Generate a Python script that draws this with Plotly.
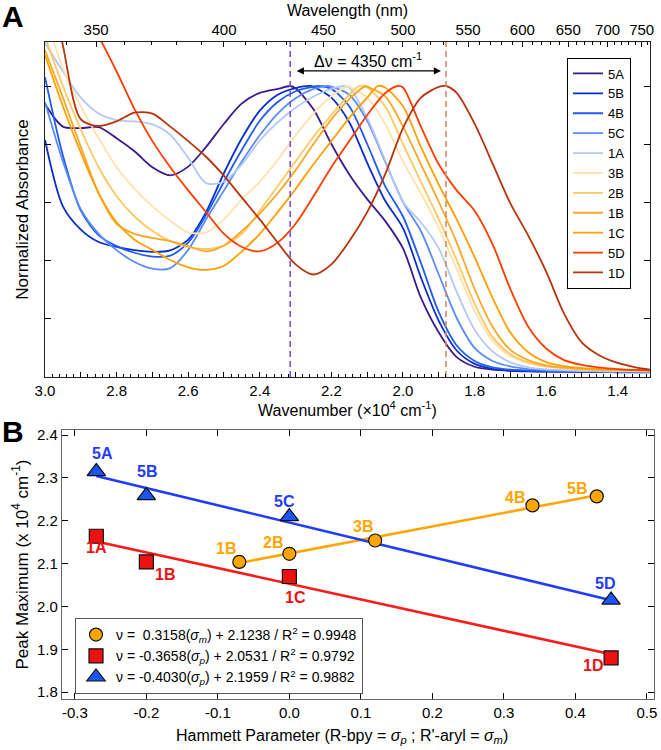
import plotly.graph_objects as go

FONT = "Arial, Liberation Sans, Helvetica, sans-serif"
W, H = 661, 750

# ---------------- Panel B data (Hammett plot) ----------------
sigma_tri = [-0.27, -0.20, 0.00, 0.45]
nu_tri = [2.315, 2.259, 2.210, 2.015]
lab_tri = ["5A", "5B", "5C", "5D"]

sigma_sq = [-0.27, -0.20, 0.00, 0.45]
nu_sq = [2.164, 2.104, 2.070, 1.880]
lab_sq = ["1A", "1B", "1C", "1D"]

sigma_circ = [-0.07, 0.00, 0.12, 0.34, 0.43]
nu_circ = [2.104, 2.123, 2.154, 2.236, 2.257]
lab_circ = ["1B", "2B", "3B", "4B", "5B"]

fit_circ = (0.3158, 2.1238, 0.9948)
fit_sq = (-0.3658, 2.0531, 0.9792)
fit_tri = (-0.4030, 2.1959, 0.9882)

# ---------------- Panel A data (normalized spectra) ----------------
wavenumber = [3.00, 2.95, 2.90, 2.85, 2.80, 2.75, 2.70, 2.65, 2.60, 2.55,
              2.50, 2.45, 2.40, 2.35, 2.30, 2.25, 2.20, 2.15, 2.10, 2.05,
              2.00, 1.95, 1.90, 1.85, 1.80, 1.75, 1.70, 1.65, 1.60, 1.55,
              1.50, 1.45, 1.40, 1.35, 1.30]

abs_5A = [0.938, 0.860, 0.855, 0.858, 0.820, 0.775, 0.720, 0.692, 0.722, 0.790,
          0.870, 0.940, 0.976, 0.990, 0.992, 0.920, 0.800, 0.695, 0.610, 0.535,
          0.440, 0.270, 0.150, 0.065, 0.032, 0.022, 0.018, 0.016, 0.015, 0.015,
          0.014, 0.014, 0.013, 0.013, 0.013]
abs_5B = [0.814, 0.585, 0.505, 0.462, 0.445, 0.434, 0.428, 0.433, 0.470, 0.565,
          0.700, 0.820, 0.915, 0.970, 0.993, 0.997, 0.960, 0.875, 0.735, 0.605,
          0.510, 0.340, 0.190, 0.088, 0.042, 0.025, 0.019, 0.017, 0.016, 0.015,
          0.015, 0.014, 0.014, 0.014, 0.013]
abs_4B = [1.030, 0.760, 0.570, 0.485, 0.448, 0.425, 0.412, 0.415, 0.460, 0.555,
          0.670, 0.780, 0.880, 0.945, 0.982, 0.998, 0.990, 0.930, 0.800, 0.655,
          0.550, 0.390, 0.220, 0.105, 0.052, 0.030, 0.022, 0.019, 0.017, 0.016,
          0.015, 0.015, 0.014, 0.014, 0.014]
abs_5C = [0.945, 0.740, 0.575, 0.490, 0.434, 0.393, 0.370, 0.372, 0.435, 0.540,
          0.640, 0.740, 0.830, 0.905, 0.958, 0.990, 0.998, 0.970, 0.880, 0.740,
          0.600, 0.500, 0.350, 0.200, 0.097, 0.052, 0.033, 0.024, 0.020, 0.018,
          0.017, 0.016, 0.015, 0.015, 0.015]
abs_1A = [1.148, 1.050, 0.960, 0.905, 0.882, 0.878, 0.868, 0.832, 0.752, 0.665,
          0.670, 0.730, 0.812, 0.875, 0.925, 0.964, 0.990, 0.995, 0.890, 0.745,
          0.600, 0.530, 0.440, 0.290, 0.160, 0.085, 0.047, 0.030, 0.023, 0.020,
          0.018, 0.017, 0.016, 0.016, 0.015]
abs_3B = [1.250, 1.060, 0.930, 0.820, 0.720, 0.645, 0.585, 0.535, 0.495, 0.495,
          0.540, 0.610, 0.670, 0.745, 0.830, 0.905, 0.965, 0.998, 0.960, 0.870,
          0.740, 0.630, 0.510, 0.370, 0.225, 0.122, 0.068, 0.044, 0.032, 0.026,
          0.022, 0.020, 0.019, 0.018, 0.017]
abs_2B = [1.170, 1.000, 0.850, 0.720, 0.620, 0.550, 0.500, 0.465, 0.445, 0.438,
          0.450, 0.490, 0.570, 0.655, 0.740, 0.825, 0.900, 0.970, 0.995, 0.930,
          0.800, 0.670, 0.540, 0.400, 0.250, 0.135, 0.075, 0.047, 0.033, 0.027,
          0.023, 0.021, 0.020, 0.019, 0.018]
abs_1B = [1.124, 0.960, 0.790, 0.630, 0.525, 0.490, 0.476, 0.465, 0.448, 0.430,
          0.450, 0.500, 0.560, 0.630, 0.710, 0.800, 0.885, 0.955, 0.998, 0.965,
          0.860, 0.730, 0.600, 0.460, 0.300, 0.170, 0.090, 0.055, 0.037, 0.029,
          0.025, 0.022, 0.021, 0.020, 0.019]
abs_1C = [1.107, 0.930, 0.770, 0.630, 0.530, 0.470, 0.435, 0.400, 0.375, 0.366,
          0.380, 0.430, 0.490, 0.565, 0.645, 0.730, 0.810, 0.890, 0.960, 0.995,
          0.930, 0.790, 0.660, 0.540, 0.410, 0.270, 0.150, 0.082, 0.048, 0.034,
          0.027, 0.024, 0.022, 0.021, 0.020]
abs_5D = [1.500, 1.380, 1.270, 1.170, 1.050, 0.920, 0.810, 0.720, 0.640, 0.565,
          0.490, 0.445, 0.430, 0.460, 0.525, 0.620, 0.720, 0.810, 0.900, 0.975,
          0.995, 0.860, 0.730, 0.640, 0.570, 0.455, 0.300, 0.170, 0.095, 0.055,
          0.038, 0.029, 0.024, 0.021, 0.019]
abs_1D = [1.450, 1.140, 0.885, 0.862, 0.878, 0.908, 0.905, 0.860, 0.810, 0.756,
          0.690, 0.615, 0.540, 0.460, 0.385, 0.350, 0.385, 0.465, 0.565, 0.695,
          0.855, 0.960, 0.997, 0.976, 0.870, 0.733, 0.595, 0.484, 0.360, 0.215,
          0.115, 0.070, 0.045, 0.030, 0.020]

spectra_names = ["5A", "5B", "4B", "5C", "1A", "3B", "2B", "1B", "1C", "5D", "1D"]
spectra_values = [abs_5A, abs_5B, abs_4B, abs_5C, abs_1A, abs_3B, abs_2B,
                  abs_1B, abs_1C, abs_5D, abs_1D]
spectra_colors = ["#3d1a8c", "#0a2fc8", "#1f5cf2", "#5a8cf5", "#b3c8f7",
                  "#fde2ad", "#fdc862", "#f9a826", "#ffa000", "#ff3c00", "#b8330c"]

# peak maxima shared with panel B
peak_max = {}
for n, v in zip(lab_tri, nu_tri):
    peak_max[n] = v
for n, v in zip(lab_sq, nu_sq):
    peak_max[n] = v
for n, v in zip(lab_circ, nu_circ):
    peak_max.setdefault(n, v)

wavelength_labels = [350, 400, 450, 500, 550, 600, 650, 700, 750]
wavelength_minor = list(range(340, 770, 10))

wn_ticks = [3.0, 2.9, 2.8, 2.7, 2.6, 2.5, 2.4, 2.3, 2.2, 2.1, 2.0, 1.9, 1.8,
            1.7, 1.6, 1.5, 1.4]
wn_ticktext = ["3.0", "", "2.8", "", "2.6", "", "2.4", "", "2.2", "", "2.0",
               "", "1.8", "", "1.6", "", "1.4"]

hx_ticks = [-0.3, -0.2, -0.1, 0.0, 0.1, 0.2, 0.3, 0.4, 0.5]
hx_text = ["-0.3", "-0.2", "-0.1", "0.0", "0.1", "0.2", "0.3", "0.4", "0.5"]
hy_ticks = [1.8, 1.9, 2.0, 2.1, 2.2, 2.3, 2.4]
hy_text = ["1.8", "1.9", "2.0", "2.1", "2.2", "2.3", "2.4"]

fig = go.Figure()

# ---------------- Panel A traces ----------------
for name, vals, col in zip(spectra_names, spectra_values, spectra_colors):
    pts = sorted(list(zip(wavenumber, vals)) + [(peak_max[name], 1.0)])
    fig.add_trace(go.Scatter(
        x=[p[0] for p in pts], y=[p[1] for p in pts], mode="lines",
        name=name, line=dict(color=col, width=1.8, shape="spline", smoothing=0.8),
        xaxis="x", yaxis="y", legend="legend", hoverinfo="skip"))

# dashed lines at the 5A and 1D maxima, drawn on the top (wavelength) axis overlay
for name, col in [("5A", "#7b52d6"), ("1D", "#d98a62")]:
    fig.add_trace(go.Scatter(
        x=[peak_max[name], peak_max[name]], y=[-0.0034, 1.1517], mode="lines",
        line=dict(color=col, width=1.6, dash="6px,4px"), showlegend=False,
        xaxis="x3", yaxis="y", hoverinfo="skip"))

delta = int(round((peak_max["5A"] - peak_max["1D"]) * 1e4, -1))
fig.add_annotation(x=peak_max["1D"], y=1.052, ax=peak_max["5A"], ay=1.052,
                   xref="x", yref="y", axref="x", ayref="y", text="",
                   showarrow=True, arrowhead=2, arrowside="end+start",
                   arrowsize=1.1, arrowwidth=1.3, arrowcolor="black",
                   standoff=5, startstandoff=5)
fig.add_annotation(x=(peak_max["1D"] + peak_max["5A"]) / 2, y=1.052, xref="x", yref="y",
                   text="Δν = %d cm<sup>-1</sup>" % delta, showarrow=False, yshift=11,
                   font=dict(size=16, color="black", family=FONT))

# ---------------- Panel B traces ----------------
fit_defs = [(sigma_circ, fit_circ, "#ffa500"), (sigma_sq, fit_sq, "#ff1a1a"),
            (sigma_tri, fit_tri, "#1f3cff")]
for sig, (m, b, r2), col in fit_defs:
    xs = [min(sig), max(sig)]
    fig.add_trace(go.Scatter(x=xs, y=[m * x + b for x in xs], mode="lines",
                             line=dict(color=col, width=2.6), showlegend=False,
                             xaxis="x2", yaxis="y2", hoverinfo="skip"))

def eq_text(m, b, r2, sub):
    sgn = "&nbsp;" if m >= 0 else ""
    return ("ν = %s%.4f(<i>σ</i><sub><i>%s</i></sub>) + %.4f / R<sup>2</sup> = %.4f"
            % (sgn, m, sub, b, r2))

marker_defs = [
    (sigma_circ, nu_circ, "circle", "#ffa500", 13, eq_text(*fit_circ, "m")),
    (sigma_sq, nu_sq, "square", "#ee1111", 14, eq_text(*fit_sq, "p")),
    (sigma_tri, nu_tri, "triangle-up", "#1a55ff", 16, eq_text(*fit_tri, "p")),
]
for sx, sy, sym, col, sz, nm in marker_defs:
    fig.add_trace(go.Scatter(x=sx, y=sy, mode="markers", name=nm,
                             marker=dict(symbol=sym, color=col, size=sz,
                                         line=dict(color="#111", width=1.2)),
                             xaxis="x2", yaxis="y2", legend="legend2", hoverinfo="skip"))

# data labels (offsets in pixels, style only)
label_sets = [
    (sigma_tri, nu_tri, lab_tri, "#1f3cff", [6, 1, -5, -6], [18, 24, 15, 17]),
    (sigma_sq, nu_sq, lab_sq, "#ee1111", [0, 19, 6, -18], [-11, -13, -21, -8]),
    (sigma_circ, nu_circ, lab_circ, "#ffa500", [-13, -16, -12, -17, -20],
     [13, 11, 14, 8, 8]),
]
for sx, sy, labs, col, dxs, dys in label_sets:
    for x, y, t, dx, dy in zip(sx, sy, labs, dxs, dys):
        fig.add_annotation(x=x, y=y, xref="x2", yref="y2", text="<b>%s</b>" % t,
                           showarrow=False, xshift=dx, yshift=dy,
                           font=dict(size=16, color=col, family=FONT))

# panel letters
for letter, py in [("A", 17), ("B", 431)]:
    fig.add_annotation(x=13 / W, y=1 - py / H, xref="paper", yref="paper",
                       text="<b>%s</b>" % letter, showarrow=False,
                       xanchor="center", yanchor="middle",
                       font=dict(size=30, color="black", family=FONT))

xtitle_font = dict(size=16, color="black", family=FONT)
ytitle_font = dict(size=17, color="black", family=FONT)
tick_font = dict(size=15, color="black", family=FONT)

# x title of panel B (placed slightly left of the axis centre, as in the figure)
fig.add_annotation(x=342 / W, y=1 - 736 / H, xref="paper", yref="paper",
                   xanchor="center", yanchor="middle",
                   text="Hammett Parameter (R-bpy = <i>σ</i><sub><i>p</i></sub> ; "
                        "R'-aryl = <i>σ</i><sub><i>m</i></sub>)",
                   showarrow=False, font=xtitle_font)

common = dict(showgrid=False, zeroline=False, showline=True, linewidth=1.2,
              ticks="inside", tickcolor="black", tickwidth=1, tickfont=tick_font,
              automargin=False, ticklabeloverflow="allow")

fig.update_layout(
    template="none",
    width=W, height=H, autosize=False,
    margin=dict(l=0, r=0, t=0, b=0, pad=0),
    paper_bgcolor="white", plot_bgcolor="white",
    font=dict(family=FONT, color="black", size=14),
    xaxis=dict(domain=[45 / W, 650 / W], anchor="y", range=[3.0, 1.31],
               tickmode="array", tickvals=wn_ticks, ticktext=wn_ticktext,
               ticklen=5, linecolor="#222", mirror=True,
               minor=dict(dtick=0.02, tick0=0, ticks="inside", ticklen=3,
                          tickcolor="black"),
               title=dict(text="Wavenumber (×10<sup>4</sup> cm<sup>-1</sup>)",
                          font=xtitle_font, standoff=0),
               **common),
    xaxis3=dict(overlaying="x", side="top", anchor="y", range=[3.0, 1.31],
                tickmode="array", tickvals=[1000 / w for w in wavelength_labels],
                ticktext=[str(w) for w in wavelength_labels], ticklen=5,
                linecolor="#222",
                minor=dict(tickmode="array",
                           tickvals=[1000 / w for w in wavelength_minor],
                           ticks="inside", ticklen=3, tickcolor="black"),
                title=dict(text="Wavelength (nm)", font=xtitle_font, standoff=0),
                **common),
    yaxis=dict(domain=[1 - 377 / H, 1 - 42 / H], anchor="x", range=[-0.0034, 1.1517],
               tickmode="array", tickvals=[0, 0.2, 0.4, 0.6, 0.8, 1.0],
               showticklabels=False, ticklen=6, linecolor="#222", mirror="ticks",
               title=dict(text="Normalized Absorbance", font=ytitle_font, standoff=10),
               **common),
    xaxis2=dict(domain=[62 / W, 654 / W], anchor="y2", range=[-0.318, 0.51],
                tickmode="array", tickvals=hx_ticks, ticktext=hx_text, ticklen=6,
                linecolor="#666", mirror="ticks",
                **common),
    yaxis2=dict(domain=[1 - 699 / H, 1 - 430 / H], anchor="x2", range=[1.784, 2.412],
                tickmode="array", tickvals=hy_ticks, ticktext=hy_text, ticklen=6,
                linecolor="#666", mirror="ticks",
                title=dict(text="Peak Maximum (x 10<sup>4</sup> cm<sup>-1</sup>)",
                           font=ytitle_font, standoff=4),
                **common),
    legend=dict(x=567 / W, y=1 - 173 / H, xanchor="left", yanchor="middle",
                bordercolor="black", borderwidth=1, bgcolor="white",
                font=dict(size=13, family=FONT, color="black"),
                tracegroupgap=0, itemwidth=30),
    legend2=dict(x=75 / W, y=1 - 618 / H, xanchor="left", yanchor="top",
                 bordercolor="#555", borderwidth=1, bgcolor="white",
                 font=dict(size=14, family=FONT, color="black"),
                 tracegroupgap=0),
    showlegend=True,
)

fig.write_html("out.html", config={"displayModeBar": False},
               post_script="document.body.style.margin='0px';"
                           "document.body.style.padding='0px';")
